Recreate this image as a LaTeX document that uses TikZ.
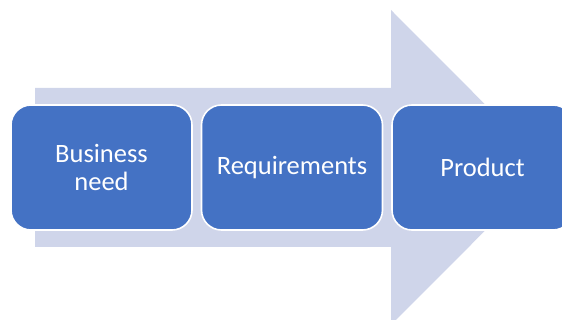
\documentclass[tikz,border=0pt]{standalone}
\usepackage{fontspec}
\setmainfont{Carlito}
\usepackage{tikz}

\definecolor{stepblue}{HTML}{4472C4}
\definecolor{flowband}{HTML}{CFD5EA}

\tikzset{
  stagebox/.style={rectangle, rounded corners=20pt, draw=white, line width=1.6pt,
    fill=stepblue, text=white, align=center, minimum width=181pt, minimum height=125pt,
    font=\fontsize{26.5}{28.5}\selectfont}
}

\begin{document}
\begin{tikzpicture}[x=1pt, y=-1pt]
    \useasboundingbox (0, 0) rectangle (562, 320);
    \clip (0, 0) rectangle (562, 320);

    % the wide arrow behind the stages
    \fill[flowband] (35, 88) -- (391, 88) -- (391, 10) -- (548, 167.5)
      -- (391, 325) -- (391, 247) -- (35, 247) -- cycle;

    \begin{scope}[every node/.style={stagebox}]
      \node (need) at (101.5, 167.5) {Business\\need};
      \node (req) at (292, 167.5) {Requirements};
      \node (prod) at (482.5, 167.5) {Product};
    \end{scope}

  \end{tikzpicture}
\end{document}
